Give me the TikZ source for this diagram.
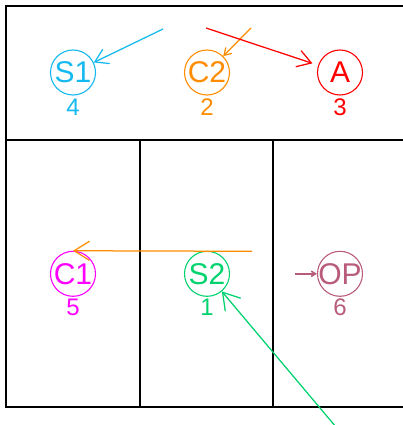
\documentclass[tikz,border=0pt]{standalone}
\usepackage{fontspec}
\setmainfont{Liberation Sans}
\usetikzlibrary{arrows.meta}
\definecolor{cS}{RGB}{20,185,240}
\definecolor{cO}{RGB}{255,140,0}
\definecolor{cR}{RGB}{255,0,0}
\definecolor{cM}{RGB}{255,0,255}
\definecolor{cG}{RGB}{0,210,110}
\definecolor{cP}{RGB}{184,92,122}
\begin{document}
\begin{tikzpicture}[x=1pt,y=-1pt,
  state/.style={circle,draw=#1,text=#1,line width=1.1pt,minimum size=45pt,inner sep=0pt,
    font=\fontsize{30}{30}\selectfont},
  num/.style={text=#1,inner sep=0pt,font=\fontsize{24}{24}\selectfont},
  frame/.style={line width=1.6pt,black},
  arr/.style={line width=1.25pt,-{Straight Barb[angle=64:#1]}}]
\useasboundingbox (0,0) rectangle (403,425);
% frame
\draw[frame] (403,6) -- (6,6) -- (6,407) -- (403,407);
\draw[frame] (6,140) -- (403,140);
\draw[frame] (140,140) -- (140,407);
\draw[frame] (273,140) -- (273,407);
% states
\node[state=cS] (S1) at (73,72.5) {\makebox[0pt]{S1}};
\node[state=cO] (C2) at (207,72.5) {\makebox[0pt]{C2}};
\node[state=cR] (A)  at (340,72.5) {\makebox[0pt]{A}};
\node[state=cM] (C1) at (73,273.8) {\makebox[0pt]{C1}};
\node[state=cG] (S2) at (207,273.8) {\makebox[0pt]{S2}};
\node[state=cP] (OP) at (340,273.8) {\makebox[0pt]{OP}};
% numbers
\node[num=cS] (n4) at (73,107.5) {4};
\node[num=cO] (n2) at (207,107.5) {2};
\node[num=cR] (n3) at (340,107.5) {3};
\node[num=cM] (n5) at (73,307) {5};
\node[num=cG] (n1) at (207,307) {1};
\node[num=cP] (n6) at (340,307) {6};
% arrow origins
\coordinate (fS1) at (163,29);
\coordinate (fC2) at (251,28);
\coordinate (fA)  at (206,28);
\coordinate (fC1) at (252,251.3);
\coordinate (fS2) at (336,427);
\coordinate (fOP) at (295,273.8);
% arrows
\draw[arr=15pt,cS] (fS1) -- (S1);
\draw[arr=8pt,cO] (fC2) -- (C2);
\draw[arr=16pt,cR,shorten >=6pt] (fA) -- (A);
\draw[arr=18pt,cO] (fC1) -- (C1.north);
\draw[arr=19pt,cG] (fS2) -- (S2);
\draw[arr=5pt,cP,line width=1.6pt] (fOP) -- (OP.west);
\end{tikzpicture}
\end{document}
